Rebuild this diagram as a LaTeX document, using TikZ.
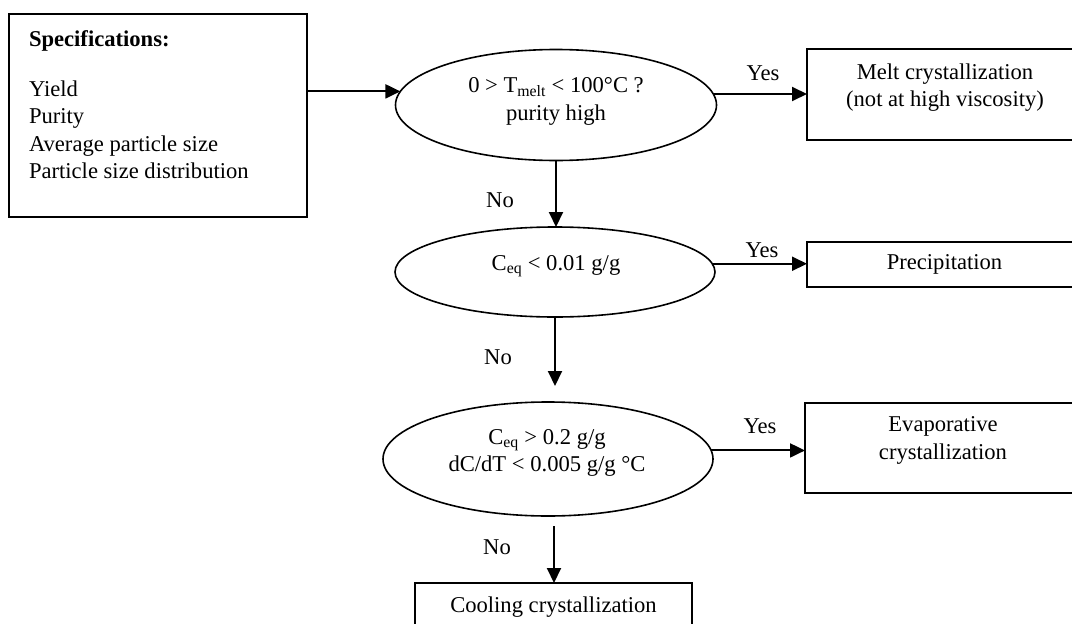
\documentclass[tikz,border=0pt]{standalone}
\usepackage{fontspec}
\setmainfont{Liberation Serif}
\usetikzlibrary{shapes.geometric,arrows.meta}
\tikzset{
  every node/.style={font=\fontsize{22.6}{27.5}\selectfont, inner sep=0pt, outer sep=0pt},
  boxnode/.style={draw, rectangle, line width=2pt},
  decision/.style={draw, ellipse, line width=1.6pt},
  arr/.style={line width=2pt, -{Triangle[length=15pt,width=14pt]}},
  lbl/.style={align=center},
}
\begin{document}
\begin{tikzpicture}[x=1pt,y=1pt]
\useasboundingbox (0,0) rectangle (1072,-624);
% specification box
\node[boxnode, minimum width=298pt, minimum height=203pt, anchor=north west] (spec) at (9,-14) {};
\node[anchor=north west, align=left] (spectext) at (29,-31)
  {\textbf{Specifications:}\\[22pt]Yield\\Purity\\Average particle size\\Particle size distribution};
% decisions
\node[decision, minimum width=321pt, minimum height=111pt] (e1) at (556,-105) {};
\node[lbl] (e1text) at (556,-101.5) {0 > T\textsubscript{melt} < 100°C ?\\purity high};
\node[decision, minimum width=320pt, minimum height=90pt] (e2) at (555,-272) {};
\node[lbl] (e2text) at (556,-266) {C\textsubscript{eq} < 0.01 g/g};
\node[decision, minimum width=330pt, minimum height=114pt] (e3) at (548,-459) {};
\node[lbl] (e3text) at (547,-453) {C\textsubscript{eq} > 0.2 g/g\\dC/dT < 0.005 g/g °C};
% outcomes
\node[boxnode, minimum width=275pt, minimum height=91pt, anchor=north west] (melt) at (807,-49) {};
\node[lbl] (melttext) at (945,-87.5) {Melt crystallization\\(not at high viscosity)};
\node[boxnode, minimum width=275pt, minimum height=45pt, anchor=north west] (precip) at (807,-242) {Precipitation};
\node[boxnode, minimum width=275pt, minimum height=90pt, anchor=north west] (evap) at (805,-403) {};
\node[lbl] (evaptext) at (943,-440.5) {Evaporative\\crystallization};
\node[boxnode, minimum width=277pt, minimum height=48pt, anchor=north west] (cool) at (415,-583) {Cooling crystallization};
% labels
\node (yes1) at (763,-73) {Yes};
\node (yes2) at (762,-250) {Yes};
\node (yes3) at (760,-426) {Yes};
\node (no1) at (500,-200) {No};
\node (no2) at (498,-357) {No};
\node (no3) at (497,-547) {No};
% connectors
\coordinate (e3in) at (555,-386);
\coordinate (e3out) at (554,-526);
\draw[arr] (spec.east |- e1.175.6) -- (e1.175.6);
\draw[arr] (e1.4) -- (e1.4 -| melt.west);
\draw[arr] (e1.south) -- (e1.south |- e2.north);
\draw[arr] (e2.3) -- (e2.3 -| precip.west);
\draw[arr] (e2.south) -- (e2.south |- e3in);
\draw[arr] (e3.3.5) -- (e3.3.5 -| evap.west);
\draw[arr] (e3out) -- (e3out |- cool.north);
\end{tikzpicture}
\end{document}
